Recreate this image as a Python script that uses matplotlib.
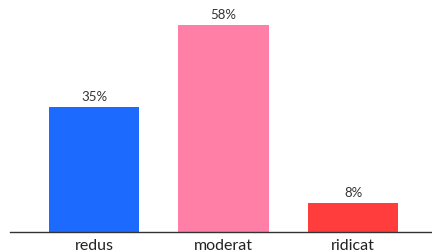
import matplotlib
matplotlib.use('Agg')
import matplotlib.pyplot as plt

categories = ['redus', 'moderat', 'ridicat']
values = [35, 58, 8]
colors = ['#1d6aff', '#ff7fa7', '#ff3d3d']

plt.rcParams['font.family'] = ['Lato', 'DejaVu Sans']

fig = plt.figure(figsize=(4.32, 2.52), dpi=100)
ax = fig.add_axes([10 / 432, 20 / 252, 1 - 10 / 432, 232 / 252])

x = range(len(categories))
bars = ax.bar(x, values, width=0.7, color=colors)
for b, v in zip(bars, values):
    ax.text(b.get_x() + b.get_width() / 2, v + 1.2, f'{v}%',
            ha='center', va='bottom', fontsize=9.5, color='#333333')

ax.set_xlim(-0.65, 2.61)
ax.set_ylim(0, 65)
ax.set_xticks(list(x))
ax.set_xticklabels(categories, fontsize=11.5, color='#222222')
ax.tick_params(axis='x', length=0, pad=5)
ax.set_yticks([])
for s in ['left', 'right', 'top']:
    ax.spines[s].set_visible(False)
ax.spines['bottom'].set_color('#333333')
ax.spines['bottom'].set_linewidth(1)

fig.savefig('out.png', dpi=100)
